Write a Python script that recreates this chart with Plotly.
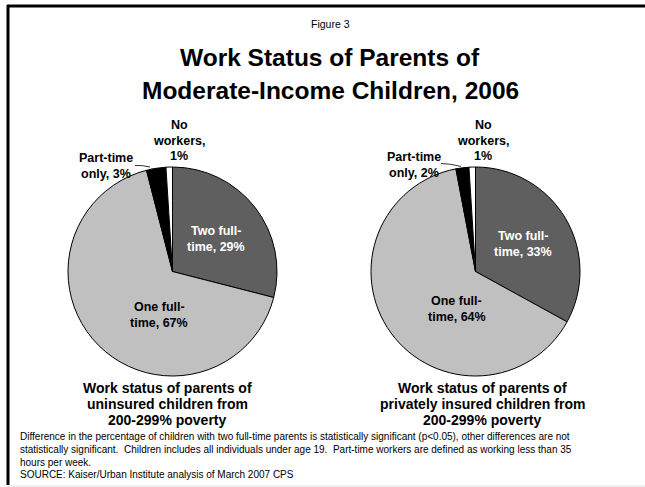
import plotly.graph_objects as go

# Work status shares (percent), slices drawn clockwise from 12 o'clock
categories = ["Two full-time", "One full-time", "Part-time only", "No workers"]
uninsured = [29, 67, 3, 1]
private_ins = [33, 64, 2, 1]
slice_colors = ["#5f5f5f", "#c0c0c0", "#000000", "#ffffff"]

W, H = 645, 487
FONT = "Liberation Sans, Arial, sans-serif"


def px(x):
    return x / W


def py(y):
    return 1 - y / H


fig = go.Figure()

for vals, (x0, x1) in [(uninsured, (68, 277)), (private_ins, (371, 580))]:
    fig.add_trace(go.Pie(
        labels=categories, values=vals, sort=False, direction="clockwise",
        rotation=0, textinfo="none", hoverinfo="label+percent",
        marker=dict(colors=slice_colors, line=dict(color="#000000", width=1)),
        domain=dict(x=[px(x0), px(x1)], y=[py(376), py(167)]),
        showlegend=False,
    ))

annotations = []


def text_block(x, y_first, lines, size, spacing, xanchor="center",
               color="black", bold=False):
    """Stack lines of text as separate annotations with a fixed line pitch."""
    for i, line in enumerate(lines):
        t = f"<b>{line}</b>" if bold else line
        annotations.append(dict(
            x=px(x), y=py(y_first + i * spacing), xref="paper", yref="paper",
            text=t, showarrow=False, xanchor=xanchor, yanchor="middle",
            font=dict(family=FONT, size=size, color=color),
        ))


def slice_lines(name, val):
    if name == "Two full-time":
        return ["Two full-", f"time, {val}%"]
    if name == "One full-time":
        return ["One full-", f"time, {val}%"]
    if name == "Part-time only":
        return ["Part-time", f"only, {val}%"]
    return ["No", "workers,", f"{val}%"]


label_pos = [
    (uninsured, {"Two full-time": (216, 231, "white"),
                 "One full-time": (159, 307, "black"),
                 "Part-time only": (106, 158, "black"),
                 "No workers": (179, 125, "black")}),
    (private_ins, {"Two full-time": (523, 236, "white"),
                   "One full-time": (457, 301, "black"),
                   "Part-time only": (414, 157, "black"),
                   "No workers": (483, 125, "black")}),
]
for vals, pos in label_pos:
    for name, v in zip(categories, vals):
        x, y, c = pos[name]
        text_block(x, y, slice_lines(name, v), 12.5, 16 if name != "No workers" else 15.7,
                   color=c, bold=True)

text_block(330, 24, ["Figure 3"], 10.5, 0)
text_block(330, 58, ["Work Status of Parents of", "Moderate-Income Children, 2006"],
           24.5, 33, bold=True)
text_block(167, 388, ["Work status of parents of", "uninsured children from",
                      "200-299% poverty"], 14, 16, bold=True)
text_block(482, 388, ["Work status of parents of", "privately insured children from",
                      "200-299% poverty"], 14, 16, bold=True)
text_block(18, 436.5, [
    "Difference in the percentage of children with two full-time parents is statistically "
    "significant (p&lt;0.05), other differences are not",
    "statistically significant.  Children includes all individuals under age 19.  "
    "Part-time workers are defined as working less than 35",
    "hours per week.",
    "SOURCE: Kaiser/Urban Institute analysis of March 2007 CPS",
], 10, 12.8, xanchor="left")

shapes = [
    dict(type="line", xref="paper", yref="paper", x0=px(8), x1=px(8), y0=py(5), y1=py(485),
         line=dict(color="black", width=3)),
    dict(type="line", xref="paper", yref="paper", x0=px(7), x1=1, y0=py(6), y1=py(6),
         line=dict(color="black", width=3)),
    dict(type="line", xref="paper", yref="paper", x0=px(9), x1=1, y0=py(486), y1=py(486),
         line=dict(color="#dddddd", width=1)),
    # leader lines from part-time labels to their slices
    dict(type="path", xref="paper", yref="paper",
         path=f"M {px(135)},{py(165.5)} Q {px(142)},{py(165)} {px(150)},{py(167)}",
         line=dict(color="black", width=0.8)),
    dict(type="path", xref="paper", yref="paper",
         path=f"M {px(441)},{py(163.5)} Q {px(450)},{py(163.5)} {px(461)},{py(166.5)}",
         line=dict(color="black", width=0.8)),
]

fig.update_layout(
    width=W, height=H, margin=dict(l=0, r=0, t=0, b=0),
    paper_bgcolor="white", plot_bgcolor="white",
    annotations=annotations, shapes=shapes,
)

fig.write_html("out.html")
